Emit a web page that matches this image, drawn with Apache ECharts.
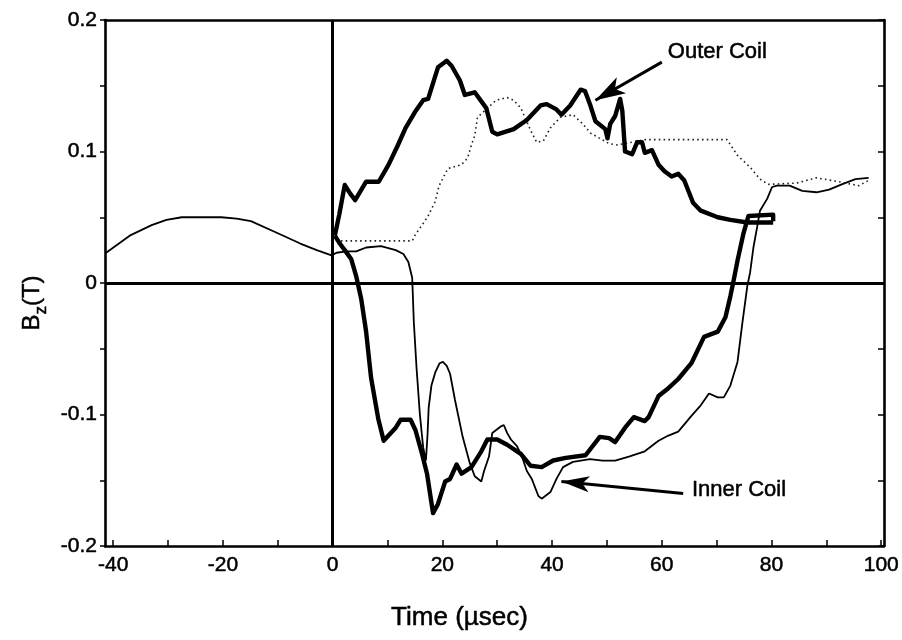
<!DOCTYPE html>
<html>
<head>
<meta charset="utf-8">
<title>Bz vs time</title>
<script src="https://cdn.jsdelivr.net/npm/echarts@6/dist/echarts.min.js"></script>
<style>
  html, body { margin: 0; padding: 0; background: #fff; }
  #chart { width: 902px; height: 640px; }
</style>
</head>
<body>
<div id="chart"></div>
<script>
// Tick positions (time in µsec, field in tesla)
const xTicks = [-40, -30, -20, -10, 0, 10, 20, 30, 40, 50, 60, 70, 80, 90, 100];
const xLabels = [-40, -20, 0, 20, 40, 60, 80, 100];
const yLabels = [-0.2, -0.1, 0, 0.1, 0.2];

// Outer coil, thick trace [t, Bz]
const outerThick = [
  [0.4, 0.036], [1.2, 0.052], [2.2, 0.0745], [3.2, 0.068], [4.1, 0.063], [6.1, 0.077],
  [8.4, 0.077], [10.2, 0.090], [11.8, 0.104], [13.3, 0.118], [15.0, 0.130], [16.5, 0.139],
  [17.4, 0.140], [19.2, 0.164], [20.8, 0.169], [21.7, 0.165], [23.2, 0.154], [24.1, 0.143],
  [25.9, 0.145], [28.0, 0.133], [29.1, 0.115], [30.0, 0.113], [33.0, 0.117], [35.4, 0.124],
  [37.9, 0.135], [39.0, 0.136], [40.8, 0.132], [41.7, 0.128], [43.3, 0.135], [45.2, 0.147],
  [46.0, 0.146], [46.9, 0.136], [47.9, 0.123], [49.7, 0.117], [50.1, 0.110], [50.6, 0.121],
  [51.5, 0.127], [52.4, 0.140], [52.8, 0.131], [53.3, 0.100], [54.6, 0.098], [55.5, 0.107],
  [56.4, 0.107], [56.9, 0.099], [58.2, 0.101], [59.4, 0.090], [60.5, 0.085], [61.8, 0.081],
  [63.0, 0.083], [64.1, 0.078], [65.7, 0.061], [67.1, 0.055], [70.2, 0.050], [72.5, 0.048],
  [75.6, 0.046], [80.3, 0.046]
];

// Outer coil, dotted trace
const outerDotted = [
  [1.5, 0.032], [14.5, 0.032], [15.1, 0.037], [16.3, 0.044], [17.4, 0.051], [18.7, 0.062],
  [19.4, 0.074], [21.0, 0.087], [23.5, 0.090], [24.6, 0.095], [25.3, 0.105], [25.9, 0.112],
  [26.4, 0.126], [28.5, 0.134], [29.8, 0.139], [31.8, 0.141], [33.0, 0.139], [34.3, 0.133],
  [36.1, 0.116], [37.2, 0.107], [38.4, 0.108], [39.7, 0.118], [41.5, 0.126], [43.8, 0.128],
  [45.6, 0.121], [47.0, 0.114], [48.7, 0.110], [50.4, 0.106], [51.9, 0.105], [54.5, 0.107],
  [56.9, 0.109], [71.9, 0.109], [73.8, 0.097], [76.1, 0.088], [77.9, 0.079], [79.4, 0.075],
  [84.6, 0.076], [88.2, 0.080], [92.3, 0.077], [95.9, 0.074], [97.7, 0.078]
];

// Inner coil, thick trace
const innerThick = [
  [0.4, 0.036], [1.3, 0.030], [2.2, 0.025], [3.4, 0.018], [4.3, 0.005], [5.2, -0.012],
  [6.1, -0.037], [7.0, -0.072], [8.3, -0.103], [9.3, -0.120], [10.4, -0.115], [11.5, -0.110],
  [12.4, -0.104], [14.2, -0.104], [15.1, -0.112], [16.3, -0.130], [17.2, -0.145], [18.3, -0.175],
  [19.2, -0.168], [20.5, -0.151], [21.4, -0.149], [22.6, -0.138], [23.5, -0.145], [25.3, -0.140],
  [27.1, -0.128], [28.2, -0.119], [30.0, -0.119], [31.8, -0.123], [34.3, -0.130], [36.1, -0.139],
  [38.1, -0.140], [40.2, -0.135], [42.5, -0.133], [46.1, -0.131], [48.7, -0.117], [50.4, -0.118],
  [51.5, -0.121], [53.3, -0.110], [54.9, -0.102], [56.9, -0.105], [57.6, -0.102], [59.4, -0.086],
  [61.2, -0.080], [63.0, -0.073], [65.4, -0.061], [67.7, -0.041], [70.2, -0.037], [71.6, -0.026],
  [72.5, -0.010], [73.1, 0.002], [73.8, 0.017], [74.9, 0.038], [75.8, 0.051], [80.3, 0.052],
  [80.3, 0.047]
];

// Inner coil, thin trace (includes the pre-trigger record)
const innerThin = [
  [-41.3, 0.023], [-37.0, 0.036], [-33.0, 0.044], [-30.3, 0.048], [-27.5, 0.050], [-20.3, 0.050],
  [-17.5, 0.049], [-14.9, 0.047], [-10.6, 0.039], [-5.9, 0.030], [-2.9, 0.025], [-0.2, 0.021],
  [0.7, 0.023], [2.5, 0.024], [4.3, 0.024], [6.1, 0.027], [8.8, 0.028], [11.5, 0.025],
  [12.9, 0.022], [13.8, 0.016], [14.5, 0.004], [14.8, -0.030], [15.3, -0.065], [15.9, -0.100],
  [16.5, -0.125], [17.0, -0.135], [17.3, -0.115], [17.5, -0.095], [18.0, -0.078], [18.7, -0.068],
  [19.5, -0.061], [20.1, -0.060], [20.8, -0.063], [21.4, -0.069], [22.3, -0.089], [23.7, -0.117],
  [25.0, -0.137], [25.9, -0.147], [27.1, -0.151], [27.6, -0.143], [28.5, -0.132], [29.1, -0.114],
  [30.7, -0.109], [31.2, -0.108], [31.8, -0.114], [32.5, -0.119], [33.6, -0.124], [34.5, -0.132],
  [35.4, -0.143], [36.3, -0.149], [37.5, -0.162], [38.1, -0.164], [39.7, -0.159], [40.8, -0.149],
  [42.0, -0.140], [43.8, -0.136], [46.9, -0.134], [49.2, -0.135], [51.5, -0.135], [54.0, -0.132],
  [56.9, -0.128], [59.4, -0.120], [61.2, -0.116], [63.0, -0.113], [65.4, -0.101], [67.1, -0.093],
  [68.6, -0.084], [70.2, -0.087], [71.3, -0.087], [72.5, -0.078], [73.8, -0.060], [74.7, -0.030],
  [75.6, -0.002], [76.1, 0.008], [76.7, 0.027], [77.4, 0.043], [77.9, 0.055], [79.2, 0.064],
  [80.1, 0.073], [81.0, 0.074], [83.3, 0.074], [85.6, 0.070], [88.2, 0.069], [90.5, 0.071],
  [92.8, 0.075], [95.3, 0.079], [97.7, 0.080]
];

// Callouts: text anchor and arrow (tail -> head), in data units
const outerNote = { name: 'Outer Coil', at: [61.0, 0.176], tail: [60.0, 0.168], head: [47.9, 0.139] };
const innerNote = { name: 'Inner Coil', at: [65.4, -0.157], tail: [63.9, -0.160], head: [41.7, -0.151] };

const FONT = '"Liberation Sans", Arial, Helvetica, sans-serif';
const INK = '#000';
// slightly heavier glyphs, like the typeset original
const heavy = { textBorderColor: INK, textBorderWidth: 0.5 };

const chart = echarts.init(document.getElementById('chart'), null, { renderer: 'canvas' });

const frameLine = { lineStyle: { color: INK, width: 2.6 } };

const option = {
  animation: false,
  backgroundColor: '#fff',
  textStyle: { fontFamily: FONT, color: INK },
  grid: { left: 105, right: 7, top: 20, bottom: 94, show: false },
  xAxis: [
    {
      type: 'value', position: 'bottom', min: -41.5, max: 100.5,
      axisLine: { show: true, onZero: false, ...frameLine },
      axisTick: { show: true, inside: true, length: 6, customValues: xTicks, lineStyle: { color: INK, width: 1.5 } },
      axisLabel: { customValues: xLabels, fontSize: 21, margin: 9, color: INK, fontFamily: FONT, ...heavy },
      splitLine: { show: false },
      name: 'Time (\u00b5sec)', nameLocation: 'middle', nameGap: 59,
      nameTextStyle: { fontSize: 26, color: INK, fontFamily: FONT, padding: [0, 70, 0, 0], ...heavy }
    },
    {
      type: 'value', position: 'top', min: -41.5, max: 100.5,
      axisLine: { show: true, onZero: false, ...frameLine },
      axisTick: { show: false }, axisLabel: { show: false }, splitLine: { show: false }
    }
  ],
  yAxis: [
    {
      type: 'value', position: 'left', min: -0.2, max: 0.2, interval: 0.05,
      axisLine: { show: true, onZero: false, ...frameLine },
      axisTick: { show: true, inside: false, length: 5, lineStyle: { color: INK, width: 1.5 } },
      axisLabel: {
        customValues: yLabels, fontSize: 21, margin: 8, color: INK, fontFamily: FONT, ...heavy,
        formatter: v => String(Math.round(v * 10) / 10)
      },
      splitLine: { show: false },
      name: '{b|B}{s|z}{t|(T)}', nameLocation: 'middle', nameRotate: 90, nameGap: 46,
      nameTextStyle: {
        fontFamily: FONT, color: INK, padding: [0, 40, 0, 0],
        rich: {
          b: { fontSize: 24, lineHeight: 34, fontFamily: FONT, color: INK, ...heavy },
          s: { fontSize: 17, lineHeight: 17, verticalAlign: 'bottom', fontFamily: FONT, color: INK, ...heavy },
          t: { fontSize: 24, lineHeight: 34, fontFamily: FONT, color: INK, ...heavy }
        }
      }
    },
    {
      type: 'value', position: 'right', min: -0.2, max: 0.2, interval: 0.05,
      axisLine: { show: true, onZero: false, ...frameLine },
      axisTick: { show: true, inside: true, length: 6, lineStyle: { color: INK, width: 1.5 } },
      axisLabel: { show: false }, splitLine: { show: false }
    }
  ],
  series: [
    {
      name: 'Inner coil (thin)', type: 'line', data: innerThin, xAxisIndex: 0, yAxisIndex: 0,
      showSymbol: false, symbol: 'none', smooth: false,
      lineStyle: { color: INK, width: 1.8 }, z: 3,
      // zero reference lines
      markLine: {
        silent: true, symbol: ['none', 'none'], animation: false,
        label: { show: false },
        lineStyle: { color: INK, width: 3, type: 'solid' },
        data: [{ xAxis: 0 }, { yAxis: 0 }]
      }
    },
    {
      name: 'Outer coil (dotted)', type: 'line', data: outerDotted,
      showSymbol: false, symbol: 'none',
      lineStyle: { color: '#222', width: 1.6, type: [1.6, 3.2] }, z: 3
    },
    {
      name: 'Inner coil (thick)', type: 'line', data: innerThick,
      showSymbol: false, symbol: 'none',
      lineStyle: { color: INK, width: 4.4, join: 'round' }, z: 4,
      markLine: {
        silent: true, animation: false,
        label: { show: false },
        lineStyle: { color: INK, width: 3, type: 'solid' },
        data: [
          [{ coord: outerNote.tail, symbol: 'none' }, { coord: outerNote.head, symbol: 'arrow', symbolSize: [14, 30] }],
          [{ coord: innerNote.tail, symbol: 'none' }, { coord: innerNote.head, symbol: 'arrow', symbolSize: [12, 28] }]
        ]
      }
    },
    {
      name: 'Outer coil (thick)', type: 'line', data: outerThick,
      showSymbol: false, symbol: 'none',
      lineStyle: { color: INK, width: 4.4, join: 'round' }, z: 4,
      markPoint: {
        silent: true, animation: false,
        symbol: 'circle', symbolSize: 1, itemStyle: { color: 'rgba(0,0,0,0)' },
        label: {
          show: true, position: 'right', distance: 0, formatter: '{b}',
          fontSize: 22, color: INK, fontFamily: FONT, ...heavy
        },
        data: [
          { name: outerNote.name, coord: outerNote.at },
          { name: innerNote.name, coord: innerNote.at }
        ]
      }
    }
  ]
};

chart.setOption(option);
</script>
</body>
</html>
